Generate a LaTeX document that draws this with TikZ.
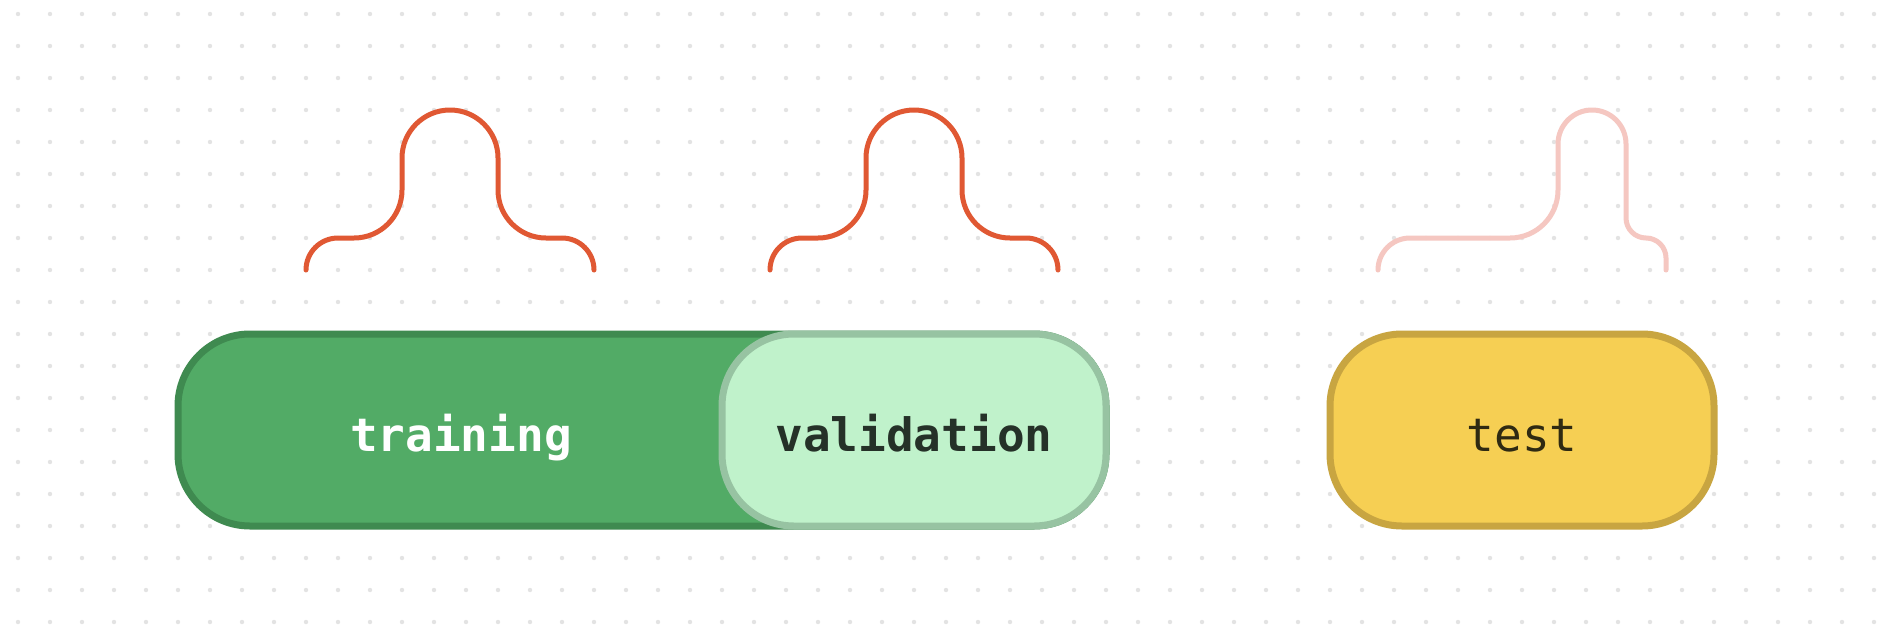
\documentclass[tikz,border=0pt]{standalone}
\usepackage{fontspec}
\newfontfamily\monofont{DejaVu Sans Mono}
\definecolor{dotgray}{HTML}{E3E3E3}
\definecolor{curveor}{HTML}{E05833}
\definecolor{curvepk}{HTML}{F5C7C1}
\definecolor{trfill}{HTML}{52AB66}
\definecolor{trline}{HTML}{3F8A50}
\definecolor{vafill}{HTML}{C0F2CB}
\definecolor{valine}{HTML}{97C3A2}
\definecolor{vatext}{HTML}{253128}
\definecolor{tefill}{HTML}{F6CF53}
\definecolor{teline}{HTML}{C8A541}
\definecolor{tetext}{HTML}{2F2A12}
\tikzset{
  pillbox/.style={draw, line width=7pt, rounded corners=72pt, minimum height=192pt, inner sep=0pt, outer sep=0pt},
  lbl/.style={font=\monofont\fontsize{46}{46}\selectfont, anchor=base, inner sep=0pt},
  bump/.style={line width=5pt, line cap=round, line join=round},
}
\begin{document}
\begin{tikzpicture}[x=1pt,y=-1pt]
\useasboundingbox (0,0) rectangle (1892,640);
\fill[white] (0,0) rectangle (1892,640);
% dot grid
\foreach \i in {0,...,58}{
  \foreach \j in {0,...,19}{
    \fill[dotgray] (18+32*\i,14+32*\j) circle[radius=2.2];
  }
}
% bumps
\coordinate (b1) at (306,270);
\draw[bump, curveor] (b1) arc[start angle=-180,end angle=-90,radius=32] -- ++(16,0)
  arc[start angle=90,end angle=0,radius=48] -- ++(0,-32)
  arc[start angle=-180,end angle=0,radius=48] -- ++(0,32)
  arc[start angle=-180,end angle=-270,radius=48] -- ++(16,0)
  arc[start angle=-90,end angle=0,radius=32] coordinate (e1);
\coordinate (b2) at (770,270);
\draw[bump, curveor] (b2) arc[start angle=-180,end angle=-90,radius=32] -- ++(16,0)
  arc[start angle=90,end angle=0,radius=48] -- ++(0,-32)
  arc[start angle=-180,end angle=0,radius=48] -- ++(0,32)
  arc[start angle=-180,end angle=-270,radius=48] -- ++(16,0)
  arc[start angle=-90,end angle=0,radius=32] coordinate (e2);
\coordinate (b3) at (1378,270);
\draw[bump, curvepk] (b3) arc[start angle=-180,end angle=-90,radius=32] -- (1510,238)
  arc[start angle=90,end angle=0,radius=48] -- (1558,144)
  arc[start angle=-180,end angle=0,radius=34] -- (1626,218)
  arc[start angle=-180,end angle=-270,radius=20]
  arc[start angle=-90,end angle=0,radius=20] -- (1666,270) coordinate (e3);
% pills
\node[pillbox, fill=trfill, draw=trline, minimum width=928pt] (train) at (642,430) {};
\node[pillbox, fill=vafill, draw=valine, minimum width=384pt] (valid) at (914,430) {};
\node[pillbox, fill=tefill, draw=teline, minimum width=384pt] (test) at (1522,430) {};
\node[lbl, text=white, font=\monofont\bfseries\fontsize{46}{46}\selectfont] (trainlbl) at (461,451) {training};
\node[lbl, text=vatext, font=\monofont\bfseries\fontsize{46}{46}\selectfont] (validlbl) at (914,451) {validation};
\node[lbl, text=tetext] (testlbl) at (1522,451) {test};
\end{tikzpicture}
\end{document}
